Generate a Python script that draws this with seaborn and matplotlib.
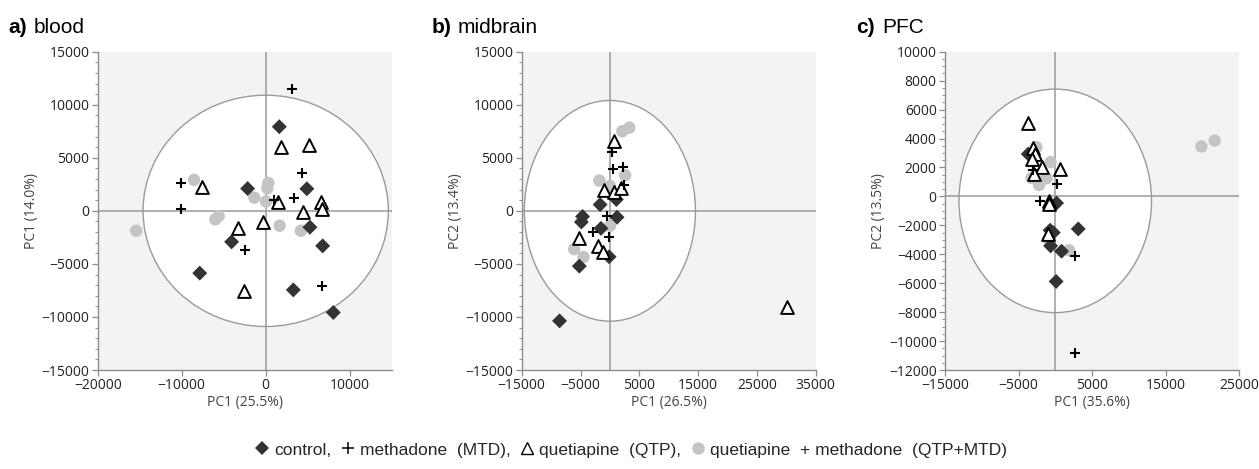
import numpy as np
import pandas as pd
import matplotlib
matplotlib.use("Agg")
import matplotlib.pyplot as plt
from matplotlib.patches import Ellipse
from matplotlib.ticker import MultipleLocator
from matplotlib.lines import Line2D
import seaborn as sns

# ---------------- data (PC scores) ----------------
groups = ["control", "methadone (MTD)", "quetiapine (QTP)", "quetiapine + methadone (QTP+MTD)"]

# a) blood
blood_ctrl_x = [1620, -2150, 4900, 5270, 6780, -4060, -7850, 3290, 8050]
blood_ctrl_y = [7930, 2100, 2080, -1540, -3300, -2920, -5870, -7450, -9580]
blood_mtd_x = [3090, -10050, -10050, 4380, 3340, 1000, -2460, 6660]
blood_mtd_y = [11470, 2650, 160, 3550, 1250, 1000, -3680, -7130]
blood_qtp_x = [1840, 5180, -7540, 1520, 4450, 6580, 6660, -3300, -280, -2580]
blood_qtp_y = [6030, 6220, 2290, 850, -70, 880, 150, -1580, -1040, -7600]
blood_comb_x = [-8530, 310, 190, -1350, 40, -5600, -6000, 1660, 4180, -15420]
blood_comb_y = [2920, 2630, 2120, 1240, 880, -500, -800, -1400, -1880, -1880]

# b) midbrain
mid_ctrl_x = [-1660, -4650, -4850, -1520, 1220, 1100, -130, -5200, -8560]
mid_ctrl_y = [590, -530, -1050, -1650, -600, 1070, -4330, -5210, -10370]
mid_mtd_x = [350, 600, 2250, 2450, -480, -2910, -170]
mid_mtd_y = [5530, 3900, 4150, 2400, -530, -1980, -2420]
mid_qtp_x = [750, -1010, 700, 1930, -5210, -2090, -1150, 30100]
mid_qtp_y = [6560, 2010, 1730, 2160, -2530, -3360, -3860, -9080]
mid_comb_x = [2100, 3300, 2590, -1800, 0, 40, -6080, -4500]
mid_comb_y = [7500, 7840, 3360, 2860, 2350, -1410, -3610, -4350]

# c) PFC
pfc_ctrl_x = [-3670, 180, -700, -270, 3130, -630, 860, 120]
pfc_ctrl_y = [2930, -460, -2340, -2500, -2250, -3420, -3790, -5880]
pfc_mtd_x = [-2990, 180, -2080, 2750, 2680]
pfc_mtd_y = [1840, 830, -310, -4090, -10850]
pfc_qtp_x = [-3670, -2960, -2720, -3170, -1850, -2870, 640, -820, -860, -980]
pfc_qtp_y = [5100, 3330, 2960, 2610, 2050, 1520, 1860, -340, -510, -2620]
pfc_comb_x = [-2560, -630, -3210, -2080, -1170, -2200, -950, 1880, 19880, 21690]
pfc_comb_y = [3400, 2370, 1270, 1030, 1250, 780, -2940, -3730, 3450, 3860]

# panel meta
titles_bold = ["a)", "b)", "c)"]
titles_text = ["blood", "midbrain", "PFC"]
xlabels = ["PC1 (25.5%)", "PC1 (26.5%)", "PC1 (35.6%)"]
ylabels = ["PC1 (14.0%)", "PC2 (13.4%)", "PC2 (13.5%)"]
xlims = [(-20000, 15000), (-15000, 35000), (-15000, 25000)]
ylims = [(-15000, 15000), (-15000, 15000), (-12000, 10000)]
xticks = [[-20000, -10000, 0, 10000],
          [-15000, -5000, 5000, 15000, 25000, 35000],
          [-15000, -5000, 5000, 15000, 25000]]
ymajor = [5000, 5000, 2000]
yminor = [1000, 1000, 500]
# confidence ellipses: centre x, centre y, width, height
ell_cx = [0, 0, 0]
ell_cy = [0, 0, -310]
ell_w = [29200, 29100, 26200]
ell_h = [21800, 20800, 15450]

panels = [
    (blood_ctrl_x, blood_ctrl_y, blood_mtd_x, blood_mtd_y, blood_qtp_x, blood_qtp_y, blood_comb_x, blood_comb_y),
    (mid_ctrl_x, mid_ctrl_y, mid_mtd_x, mid_mtd_y, mid_qtp_x, mid_qtp_y, mid_comb_x, mid_comb_y),
    (pfc_ctrl_x, pfc_ctrl_y, pfc_mtd_x, pfc_mtd_y, pfc_qtp_x, pfc_qtp_y, pfc_comb_x, pfc_comb_y),
]

def make_df(p):
    rows = []
    for gi, g in enumerate(groups):
        xs, ys = p[2 * gi], p[2 * gi + 1]
        for x, y in zip(xs, ys):
            rows.append({"x": x, "y": y, "group": g})
    return pd.DataFrame(rows)

# ---------------- style ----------------
sns.set_style("white")
plt.rcParams["font.family"] = ["Liberation Sans", "DejaVu Sans"]

grey_txt = "#444444"
axis_grey = "#8c8c8c"
bg = "#f3f3f3"

fig = plt.figure(figsize=(12.59, 4.69), dpi=100)
lefts = [97.7, 521.7, 945.0]
W, H = 1259, 469
ax_w = 294.0
ax_top, ax_bot = 51.7, 370.0

ctrl_color = "#333333"
comb_color = "#c4c4c4"

for i, p in enumerate(panels):
    ax = fig.add_axes([lefts[i] / W, 1 - ax_bot / H, ax_w / W, (ax_bot - ax_top) / H])
    ax.set_facecolor(bg)
    ax.set_xlim(*xlims[i])
    ax.set_ylim(*ylims[i])
    ell = Ellipse((ell_cx[i], ell_cy[i]), ell_w[i], ell_h[i], facecolor="white",
                  edgecolor="#9a9a9a", linewidth=1.0, zorder=0.5)
    ax.add_patch(ell)
    ax.axhline(0, color="#9a9a9a", lw=1.1, zorder=0.8)
    ax.axvline(0, color="#9a9a9a", lw=1.1, zorder=0.8)

    df = make_df(p)
    d = df[df.group == groups[2]]
    sns.scatterplot(data=d, x="x", y="y", ax=ax, marker="^", s=85, color="white",
                    edgecolor="black", linewidth=1.4, zorder=3, legend=False)
    d = df[df.group == groups[3]]
    sns.scatterplot(data=d, x="x", y="y", ax=ax, marker="o", s=80, color=comb_color,
                    edgecolor="none", linewidth=0, zorder=2, legend=False)
    d = df[df.group == groups[0]]
    sns.scatterplot(data=d, x="x", y="y", ax=ax, marker="D", s=58, color=ctrl_color,
                    edgecolor="none", linewidth=0, zorder=2.5, legend=False)
    d = df[df.group == groups[1]]
    sns.scatterplot(data=d, x="x", y="y", ax=ax, marker="+", s=60, color="black",
                    linewidth=1.5, zorder=4, legend=False)

    ax.set_xticks(xticks[i])
    ax.set_xlim(*xlims[i])
    ax.yaxis.set_major_locator(MultipleLocator(ymajor[i]))
    ax.yaxis.set_minor_locator(MultipleLocator(yminor[i]))
    for s in ["top", "right"]:
        ax.spines[s].set_visible(False)
    for s in ["left", "bottom"]:
        ax.spines[s].set_color(axis_grey)
        ax.spines[s].set_linewidth(1.0)
    ax.tick_params(axis="both", which="major", length=4, width=0.9, color=axis_grey,
                   labelsize=10, labelcolor="#222222", pad=2, direction="out",
                   left=True, bottom=True)
    ax.tick_params(axis="y", which="minor", length=2.5, width=0.7, color=axis_grey, left=True)
    for lab in ax.get_xticklabels() + ax.get_yticklabels():
        lab.set_family(["Open Sans", "DejaVu Sans"])
    ax.set_xlabel(xlabels[i], fontsize=10, color=grey_txt, labelpad=1,
                  family=["Open Sans", "DejaVu Sans"])
    ax.set_ylabel(ylabels[i], fontsize=10, color=grey_txt, labelpad=2,
                  family=["Open Sans", "DejaVu Sans"])

    tx = [8, 432, 856][i]
    fig.text(tx / W, 1 - 33 / H, titles_bold[i], fontsize=15, fontweight="bold",
             ha="left", va="baseline", color="black")
    fig.text((tx + 26) / W, 1 - 33 / H, titles_text[i], fontsize=15,
             ha="left", va="baseline", color="black")

# ---------------- legend (inline) ----------------
handles = [
    Line2D([], [], marker="D", ls="none", color=ctrl_color, markersize=7, markeredgewidth=0),
    Line2D([], [], marker="+", ls="none", color="black", markersize=9, markeredgewidth=1.1),
    Line2D([], [], marker="^", ls="none", markerfacecolor="white", markeredgecolor="black",
           markersize=9, markeredgewidth=1.0),
    Line2D([], [], marker="o", ls="none", color=comb_color, markersize=9, markeredgewidth=0),
]
labels = ["control,", "methadone  (MTD),", "quetiapine  (QTP),", "quetiapine  + methadone  (QTP+MTD)"]
fig.legend(handles, labels, loc="center", bbox_to_anchor=(631 / W, 1 - 450 / H), ncol=4,
           frameon=False, fontsize=12.5, handlelength=0.8, handletextpad=0.3,
           columnspacing=0.55, borderaxespad=0)

fig.savefig("out.png", dpi=100)
